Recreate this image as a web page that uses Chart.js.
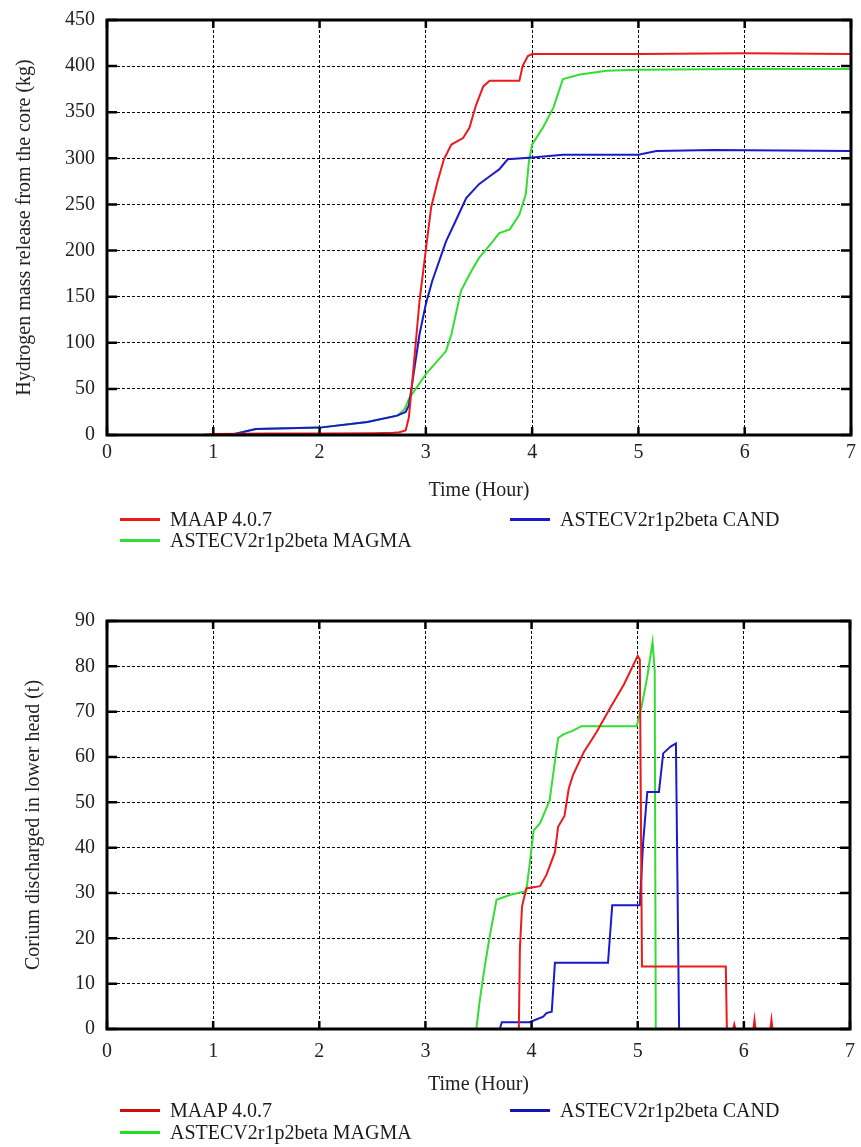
<!DOCTYPE html>
<html>
<head>
<meta charset="utf-8">
<title>Hydrogen release and corium discharge</title>
<script src="https://cdn.jsdelivr.net/npm/chart.js"></script>
<style>
  body { margin: 0; background: #fff; width: 861px; height: 1147px; position: relative; overflow: hidden;
         font-family: "Liberation Serif", "Times New Roman", serif; }
  canvas { position: absolute; left: 0; }
  #hydrogenChart { top: 0; }
  #coriumChart { top: 600px; }
  .legend { position: absolute; left: 120px; display: grid; grid-auto-flow: column;
            grid-template-columns: 390px auto; font-size: 20px; color: #1a1a1a; }
  .legend .item { display: flex; align-items: center; white-space: nowrap; }
  .legend .swatch { width: 40px; height: 3px; margin-right: 10px; }
  #hydrogenLegend { top: 509px; grid-template-rows: 21px 21px; }
  #coriumLegend { top: 1099px; grid-template-rows: 22px 22px; }
</style>
</head>
<body>
<canvas id="hydrogenChart" width="861" height="517"></canvas>
<div class="legend" id="hydrogenLegend"></div>
<canvas id="coriumChart" width="861" height="501"></canvas>
<div class="legend" id="coriumLegend"></div>

<script>
// ===== Axis ticks =====
const hourTicks = [0, 1, 2, 3, 4, 5, 6, 7];
const hydrogenTicks = [0, 50, 100, 150, 200, 250, 300, 350, 400, 450];
const coriumTicks = [0, 10, 20, 30, 40, 50, 60, 70, 80, 90];

const seriesNames = ['MAAP 4.0.7', 'ASTECV2r1p2beta MAGMA', 'ASTECV2r1p2beta CAND'];

// ===== Hydrogen mass release from the core (kg) =====
const h2MaapHours = [0, 0.9, 1.0, 1.5, 2.0, 2.5, 2.7, 2.75, 2.81, 2.84, 2.87, 2.94, 3.0, 3.05, 3.11, 3.17, 3.24, 3.35, 3.41, 3.47, 3.54, 3.6, 3.88, 3.91, 3.96, 4.0, 5.0, 6.0, 7.0];
const h2MaapMass = [0, 0, 1, 1.5, 1.5, 2, 2.5, 3, 5, 19, 55, 145, 201, 247, 275, 299, 315, 322, 333, 357, 378, 384, 384, 400, 411, 413, 413, 414, 413];

const h2MagmaHours = [0, 1.16, 1.4, 2.0, 2.45, 2.73, 2.8, 2.84, 3.0, 3.19, 3.24, 3.33, 3.41, 3.5, 3.63, 3.69, 3.79, 3.88, 3.94, 3.97, 4.0, 4.1, 4.2, 4.29, 4.45, 4.7, 5.0, 6.0, 7.0];
const h2MagmaMass = [0, 0, 6.5, 8, 14, 21, 28, 39, 66, 91, 109, 156, 174, 192, 210, 219, 223, 239, 261, 297, 315, 333, 355, 386, 391, 395, 396, 397, 397];

const h2CandHours = [0, 1.16, 1.4, 2.0, 2.45, 2.73, 2.81, 2.84, 2.87, 2.94, 3.0, 3.06, 3.19, 3.28, 3.38, 3.5, 3.63, 3.69, 3.77, 4.0, 4.29, 5.0, 5.17, 5.7, 7.0];
const h2CandMass = [0, 0, 6.5, 8, 14, 21, 25, 32, 55, 109, 142, 167, 210, 232, 257, 272, 283, 288, 299, 301, 304, 304, 308, 309, 308];

// ===== Corium discharged in lower head (t) =====
const corMaapHours = [0, 3.88, 3.89, 3.91, 3.95, 4.08, 4.14, 4.22, 4.25, 4.31, 4.35, 4.39, 4.49, 4.61, 4.74, 4.87, 5.0, 5.02, 5.04, 5.83, 5.84, 5.9, 5.91, 5.92, 6.09, 6.1, 6.11, 6.25, 6.26, 6.27, 7.0];
const corMaapMass = [0, 0, 17.7, 27, 31, 31.5, 34, 39, 44.6, 47, 53, 56, 61, 65.4, 70.8, 76, 82.3, 81.5, 13.8, 13.8, 0, 0, 1, 0, 0, 2, 0, 0, 2, 0, 0];

const corMagmaHours = [0, 3.48, 3.51, 3.56, 3.61, 3.67, 3.8, 3.95, 3.98, 4.02, 4.08, 4.17, 4.25, 4.3, 4.39, 4.47, 4.99, 5.04, 5.09, 5.14, 5.16, 5.17, 7.0];
const corMagmaMass = [0, 0, 6, 14, 21, 28.5, 29.6, 30.4, 36, 43.8, 45.4, 50.4, 64.2, 65, 65.8, 66.8, 66.8, 71.5, 77.7, 85.4, 79, 0, 0];

const corCandHours = [0, 3.7, 3.72, 3.98, 4.11, 4.14, 4.19, 4.22, 4.72, 4.76, 5.02, 5.05, 5.09, 5.2, 5.24, 5.31, 5.36, 5.39, 7.0];
const corCandMass = [0, 0, 1.5, 1.5, 2.7, 3.5, 3.8, 14.6, 14.6, 27.3, 27.3, 40.8, 52.3, 52.3, 60.8, 62.3, 63, 0, 0];

const FONT = '"Liberation Serif", "Times New Roman", serif';

function toPoints(xs, ys) {
  return xs.map((x, i) => ({ x: x, y: ys[i] }));
}

function makeSet(label, xs, ys, color, order) {
  return {
    label: label,
    data: toPoints(xs, ys),
    borderColor: color,
    backgroundColor: color,
    borderWidth: 2,
    pointRadius: 0,
    tension: 0,
    fill: false,
    order: order
  };
}

// Gnuplot style frame with inward ticks
const framePlugin = {
  id: 'gnuFrame',
  afterDraw(chart) {
    const ctx = chart.ctx;
    const a = chart.chartArea;
    const xs = chart.scales.x;
    const ys = chart.scales.y;
    ctx.save();
    ctx.setLineDash([]);
    ctx.strokeStyle = '#000';
    ctx.lineWidth = 2.5;
    hourTicks.forEach(v => {
      const px = xs.getPixelForValue(v);
      ctx.beginPath();
      ctx.moveTo(px, a.bottom); ctx.lineTo(px, a.bottom - 8);
      ctx.moveTo(px, a.top); ctx.lineTo(px, a.top + 8);
      ctx.stroke();
    });
    ys.ticks.forEach(t => {
      const py = ys.getPixelForValue(t.value);
      ctx.beginPath();
      ctx.moveTo(a.left, py); ctx.lineTo(a.left + 10, py);
      ctx.moveTo(a.right, py); ctx.lineTo(a.right - 10, py);
      ctx.stroke();
    });
    ctx.lineWidth = 3;
    ctx.strokeRect(a.left, a.top, a.right - a.left, a.bottom - a.top);
    ctx.restore();
  }
};

function makeChart(id, datasets, yTicks, yTitle, opts) {
  const ctx = document.getElementById(id).getContext('2d');
  return new Chart(ctx, {
    type: 'line',
    data: { datasets: datasets },
    options: {
      responsive: false,
      animation: false,
      layout: { padding: { top: opts.padTop, right: opts.padRight, left: 0, bottom: 0 } },
      plugins: { legend: { display: false }, tooltip: { enabled: false } },
      scales: {
        x: {
          type: 'linear',
          min: hourTicks[0],
          max: hourTicks[hourTicks.length - 1],
          afterBuildTicks: s => { s.ticks = hourTicks.map(v => ({ value: v })); },
          afterFit: s => { s.paddingLeft = 0; s.paddingRight = 0; },
          ticks: { padding: opts.xTickPad, color: '#222', font: { family: FONT, size: 20 } },
          grid: { color: '#000', lineWidth: 1, drawTicks: false },
          border: { display: false, dash: [3, 2] },
          title: {
            display: true, text: 'Time (Hour)', color: '#222',
            font: { family: FONT, size: 20 },
            padding: { top: opts.xTitleTop, bottom: opts.xTitleBottom }
          }
        },
        y: {
          min: yTicks[0],
          max: yTicks[yTicks.length - 1],
          afterBuildTicks: s => { s.ticks = yTicks.map(v => ({ value: v })); },
          afterFit: s => { s.width = 107; s.paddingTop = 0; s.paddingBottom = 0; },
          ticks: { padding: 12, color: '#222', font: { family: FONT, size: 20 } },
          grid: { color: '#000', lineWidth: 1, drawTicks: false },
          border: { display: false, dash: [3, 2] },
          title: {
            display: true, text: yTitle, color: '#222',
            font: { family: FONT, size: 20 },
            padding: { top: opts.yTitleTop, bottom: 0 }
          }
        }
      }
    },
    plugins: [framePlugin]
  });
}

// Legend laid out in columns like the original
function buildLegend(chart, elId) {
  const box = document.getElementById(elId);
  chart.data.datasets.forEach(ds => {
    const item = document.createElement('div');
    item.className = 'item';
    const sw = document.createElement('span');
    sw.className = 'swatch';
    sw.style.background = ds.legendColor || ds.borderColor;
    const txt = document.createElement('span');
    txt.textContent = ds.label;
    item.appendChild(sw);
    item.appendChild(txt);
    box.appendChild(item);
  });
}

// ===== Hydrogen chart =====
const hydrogenSets = [
  makeSet(seriesNames[0], h2MaapHours, h2MaapMass, '#ee1a1a', 0),
  makeSet(seriesNames[1], h2MagmaHours, h2MagmaMass, '#33dd33', 2),
  makeSet(seriesNames[2], h2CandHours, h2CandMass, '#1a1acc', 1)
];
const hydrogenChart = makeChart('hydrogenChart', hydrogenSets, hydrogenTicks,
  'Hydrogen mass release from the core (kg)',
  { padTop: 20, padRight: 10, xTickPad: 6, xTitleTop: 8, xTitleBottom: 14, yTitleTop: 13 });
buildLegend(hydrogenChart, 'hydrogenLegend');

// ===== Corium chart =====
const coriumSets = [
  makeSet(seriesNames[0], corMaapHours, corMaapMass, '#ee1a1a', 0),
  makeSet(seriesNames[1], corMagmaHours, corMagmaMass, '#33dd33', 2),
  makeSet(seriesNames[2], corCandHours, corCandMass, '#1a1acc', 1)
];
coriumSets[0].legendColor = '#cc1010';
coriumSets[1].legendColor = '#22dd22';
coriumSets[2].legendColor = '#1414b0';
const coriumChart = makeChart('coriumChart', coriumSets, coriumTicks,
  'Corium discharged in lower head (t)',
  { padTop: 21, padRight: 11, xTickPad: 11, xTitleTop: -2, xTitleBottom: 4, yTitleTop: 22 });
buildLegend(coriumChart, 'coriumLegend');
</script>
</body>
</html>
